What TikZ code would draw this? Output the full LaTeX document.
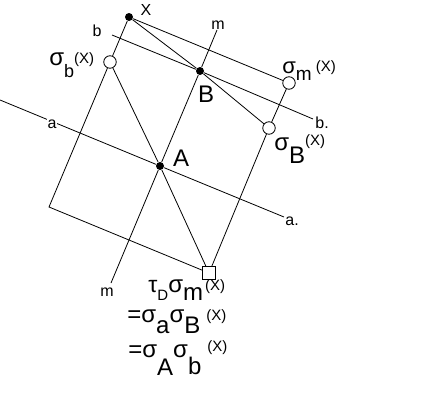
\documentclass[tikz,border=0pt]{standalone}
\usepackage{fontspec}
\setmainfont{Liberation Sans}
\usetikzlibrary{positioning}

\newcommand\gkf{\fontsize{24}{26}\selectfont}
\newcommand\argf{\fontsize{15}{17}\selectfont}
\newcommand\lw[2]{\raisebox{-#1pt}{#2}}

\begin{document}
\begin{tikzpicture}[x=1pt, y=-1pt, line width=0.8pt,
  ptdot/.style={circle, fill=black, inner sep=0pt, minimum size=8pt},
  imgdot/.style={circle, draw, fill=white, inner sep=0pt, minimum size=12.5pt},
  imgbox/.style={rectangle, draw, fill=white, inner sep=0pt, minimum size=13pt},
  lbl/.style={inner sep=0pt, font=\fontsize{16}{18}\selectfont},
  ptlbl/.style={inner sep=0pt, font=\fontsize{24}{26}\selectfont},
  txt/.style={inner sep=0pt, anchor=base west}]
\useasboundingbox (0,0) rectangle (443,415);

% points and images
\node[ptdot] (X) at (129,17) {};
\node[ptdot] (B) at (200,71) {};
\node[ptdot] (A) at (160,166) {};
\node[imgdot] (sb) at (110,62) {};
\node[imgdot] (sm) at (289,83) {};
\node[imgdot] (sB) at (269,128) {};
\node[imgbox] (D) at (209,273) {};
\coordinate (C) at (49,207);
\coordinate (m1) at (217,30);
\coordinate (m2) at (111,283);
\coordinate (a1) at (0,100);
\coordinate (a2) at (284,217);
\coordinate (b1) at (112,35);
\coordinate (b2) at (313,119);

% rectangle
\draw (X) -- (sb) -- (C) -- (D) -- (sB) -- (sm) -- (X);
% mirror lines
\draw (m1) -- (B) -- (A) -- (m2);
\draw (a1) -- (A) -- (a2);
\draw (b1) -- (B) -- (b2);
\draw (X) -- (B) -- (sB);
\draw (sb) -- (A) -- (D);

% labels
\node[inner sep=0pt, font=\fontsize{16}{18}\selectfont] (lX) at (146,10) {X};
\node[ptlbl] (lA) at (181,158) {A};
\node[ptlbl] (lB) at (206,94) {B};
\node[lbl] (lm1) at (218,25) {m};
\node[lbl] (lm2) at (107,292) {m};
\node[lbl] (lb1) at (97,31) {b};
\node[lbl, fill=white, inner sep=1pt] (la1) at (52,124) {a};
\node[lbl, anchor=base west] (lb2) at (315,128) {b.};
\node[lbl, anchor=base west] (la2) at (285,225) {a.};

\node[txt] (lsb) at (49,65) {\gkf σ\lw{12}{\fontsize{18}{20}\selectfont b}\raisebox{2pt}{\argf(X)}};
\node[txt] (lsm) at (282,73) {\fontsize{22}{24}\selectfont σ\lw{7}{\fontsize{19}{21}\selectfont m}\hspace{4pt}\raisebox{2pt}{\argf(X)}};
\node[txt] (lsB) at (274,150) {\gkf σ\lw{13}{B}\raisebox{5pt}{\argf(X)}};

% formula
\node[txt] (f1) at (148,292) {\fontsize{23}{25}\selectfont τ\lw{8}{\fontsize{15}{17}\selectfont D}\gkf σ\lw{8}{m}\hspace{2pt}\raisebox{2pt}{\argf(X)}};
\node[txt] (f2) at (127,322) {\gkf =σ\lw{11}{a}σ\lw{11}{B}\hspace{6pt}\raisebox{2pt}{\argf(X)}};
\node[txt] (f3) at (128,357) {\gkf =σ\lw{18}{A}σ\lw{17}{b}\hspace{6pt}\raisebox{6pt}{\argf(X)}};
\end{tikzpicture}
\end{document}
